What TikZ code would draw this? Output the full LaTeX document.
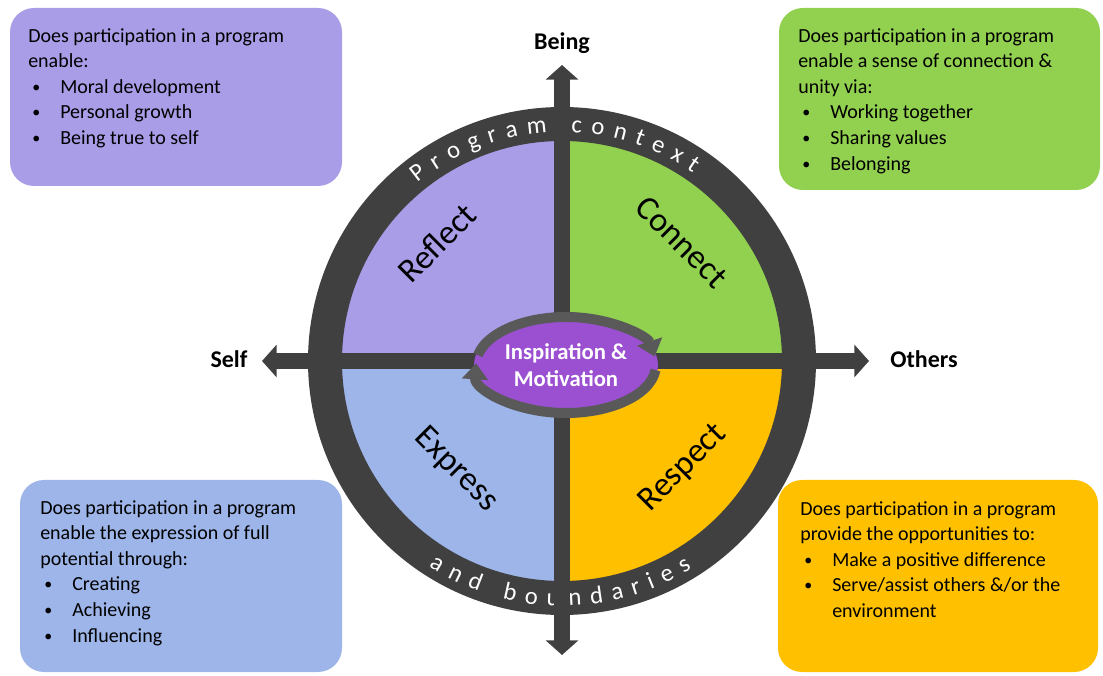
\documentclass[tikz,border=0pt]{standalone}
\usepackage{fontspec}
\setmainfont{Carlito}
\usetikzlibrary{arrows.meta,decorations.text,fit,shapes.geometric}

\definecolor{reflectcol}{RGB}{170,157,232}
\definecolor{connectcol}{RGB}{146,208,80}
\definecolor{expresscol}{RGB}{157,181,232}
\definecolor{respectcol}{RGB}{255,192,0}
\definecolor{ringcol}{RGB}{64,64,64}
\definecolor{hubcol}{RGB}{155,80,210}
\definecolor{swirlcol}{RGB}{89,89,89}

\newcommand{\qitem}[1]{\hspace*{3pt}\makebox[21pt][l]{\raisebox{0.8pt}{\fontsize{12pt}{12pt}\selectfont\textbullet}}#1}
\newcommand{\ringfont}{\color{white}\fontsize{18.5pt}{18.5pt}\selectfont}

\begin{document}
\begin{tikzpicture}[%
	x=0.75pt,y=0.75pt,
	qbox/.style={rounded corners=18pt,inner sep=0pt},
	boxtext/.style={anchor=north west,align=left,inner sep=0pt,
		font=\fontsize{15pt}{19.2pt}\selectfont},
	quadlabel/.style={font=\fontsize{25.5pt}{28pt}\selectfont},
	axislabel/.style={anchor=base,font=\fontsize{18pt}{20pt}\selectfont\bfseries},
	axis/.style={ringcol,line width=12pt,
		{Triangle[width=24pt,length=11pt]}-{Triangle[width=24pt,length=11pt]}},
	swirl/.style={swirlcol,line width=7.5pt,-{Triangle[width=19pt,length=12pt]}}]

	\useasboundingbox (0,0) rectangle (1103,675);

	% corner boxes
	\node[qbox,fill=reflectcol,fit={(10,667) (342,489)}]	(reflectbox)	{};
	\node[qbox,fill=connectcol,fit={(779,667) (1100,485)}]	(connectbox)	{};
	\node[qbox,fill=expresscol,fit={(20,195) (342,3)}]	(expressbox)	{};
	\node[qbox,fill=respectcol,fit={(778,195) (1098,3)}]	(respectbox)	{};

	\node[boxtext] (reflecttxt) at (28,647) {%
		Does participation in a program\\
		enable:\\
		\qitem{Moral development}\\
		\qitem{Personal growth}\\
		\qitem{Being true to self}
	};
	\node[boxtext] (connecttxt) at (798,647) {%
		Does participation in a program\\
		enable a sense of connection \&\\
		unity via:\\
		\qitem{Working together}\\
		\qitem{Sharing values}\\
		\qitem{Belonging}
	};
	\node[boxtext] (expresstxt) at (40,175) {%
		Does participation in a program\\
		enable the expression of full\\
		potential through:\\
		\qitem{Creating}\\
		\qitem{Achieving}\\
		\qitem{Influencing}
	};
	\node[boxtext] (respecttxt) at (800,174) {%
		Does participation in a program\\
		provide the opportunities to:\\
		\qitem{Make a positive difference}\\
		\qitem{Serve/assist others \&/or the}\\
		\hspace*{24pt}environment
	};

	% wheel
	\coordinate (hub) at (562,314);
	\fill[reflectcol] (hub) -- ++(0,230) arc[start angle=90,end angle=180,radius=230] -- cycle;
	\fill[expresscol] (hub) -- ++(-230,0) arc[start angle=180,end angle=270,radius=230] -- cycle;
	\fill[respectcol] (hub) -- ++(0,-230) arc[start angle=270,end angle=360,radius=230] -- cycle;
	\fill[connectcol] (hub) -- ++(230,0) arc[start angle=0,end angle=90,radius=230] -- cycle;
	\draw[ringcol,line width=25.5pt] (hub) circle[radius=237];

	\path[decorate,decoration={text along path,
		text={|\ringfont|Program context},text align={fit to path}}]
		([shift={(129:229)}]hub) arc[start angle=129,end angle=55,radius=229];
	\path[decorate,decoration={text along path,
		text={|\ringfont|and boundaries},text align={fit to path}}]
		([shift={(237:245)}]hub) arc[start angle=237,end angle=302,radius=245];

	% axes
	\node[axislabel] (being)	at (562,625) {Being};
	\node[axislabel] (self)		at (229,307) {Self};
	\node[axislabel] (others)	at (924,307) {Others};
	\coordinate (beingtip)	at (562,610);
	\coordinate (basetip)	at (562,20);
	\coordinate (selftip)	at (262,314);
	\coordinate (otherstip)	at (869,314);
	\draw[axis] (selftip) -- (otherstip);
	\draw[axis] (basetip) -- (beingtip);

	\node[quadlabel,rotate=45]	(reflect)	at (437,432) {Reflect};
	\node[quadlabel,rotate=-45]	(connect)	at (682,433) {Connect};
	\node[quadlabel,rotate=-45]	(express)	at (456,205) {Express};
	\node[quadlabel,rotate=45]	(respect)	at (683,207) {Respect};

	% centre
	\node[ellipse,fill=hubcol,inner sep=0pt,minimum width=138pt,minimum height=74pt,
		text=white,align=center,font=\fontsize{17pt}{20pt}\selectfont\bfseries]
		(inspire) at (566,310) {Inspiration \&\\Motivation};
	\draw[swirl] ([shift={(168:90 and 48)}]inspire.center)
		arc[start angle=168,end angle=10,x radius=90,y radius=48];
	\draw[swirl] ([shift={(-6:90 and 48)}]inspire.center)
		arc[start angle=-6,end angle=-182,x radius=90,y radius=48];

\end{tikzpicture}
\end{document}
